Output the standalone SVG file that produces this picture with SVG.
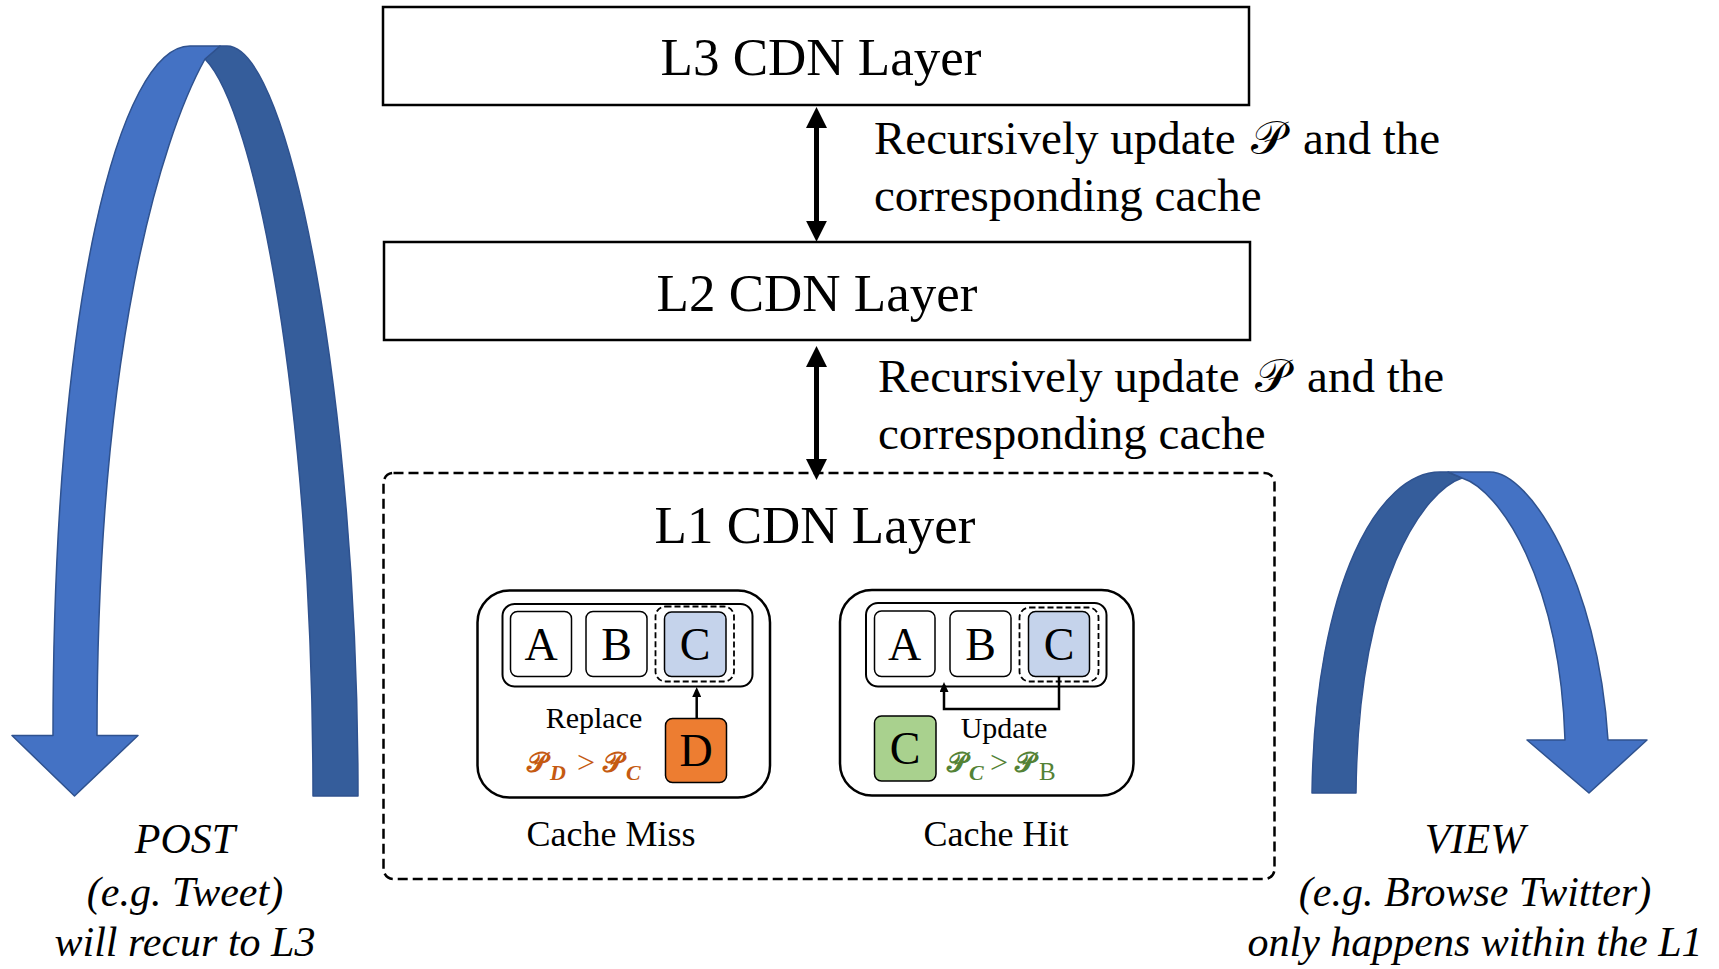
<svg xmlns="http://www.w3.org/2000/svg" width="1719" height="969" viewBox="0 0 1719 969">
<style>
.t{font-family:"Liberation Serif","Times New Roman",serif;fill:#000}
.it{font-family:"Liberation Serif","Times New Roman",serif;font-style:italic;fill:#000}
.m{font-family:"DejaVu Serif","DejaVu Sans",serif}
.layer{fill:#fff;stroke:#000;stroke-width:2.5}
.panel{fill:#fff;stroke:#000;stroke-width:2.5}
.strip{fill:#fff;stroke:#000;stroke-width:2}
.cell{stroke:#000;stroke-width:1.5}
.dash{fill:none;stroke:#000;stroke-width:1.8;stroke-dasharray:6 3}
.light{fill:#4472C4;stroke:#2F528F;stroke-width:1.5;stroke-linejoin:round}
.dark{fill:#355D9B;stroke:#2F528F;stroke-width:1.5;stroke-linejoin:round}
.big{stroke:#000;stroke-width:5;fill:none}
.small{stroke:#000;stroke-width:2.5;fill:none}
</style>
<defs>
<marker id="ah" viewBox="0 0 21 21" refX="11" refY="10.5" markerWidth="21" markerHeight="21" markerUnits="userSpaceOnUse" orient="auto-start-reverse">
<path d="M0,0 L21,10.5 L0,21 z" fill="#000"/>
</marker>
<marker id="as" viewBox="0 0 10 9" refX="7" refY="4.5" markerWidth="10" markerHeight="9" markerUnits="userSpaceOnUse" orient="auto">
<path d="M0,0 L10,4.5 L0,9 z" fill="#000"/>
</marker>
</defs>
<rect width="1719" height="969" fill="#fff"/>

<g id="post-arrow">
<path class="dark" d="M205,59 L220,46 L227,46 C290,46 358,400 358,796 L313,796 C313,400 255,110 205,59 Z"/>
<path class="light" d="M53,735.5 C53,300 120,46 190,46 L220,46 L205,59 C160,140 97,350 97,735.5 L138,735.5 L74.5,796 L12,735.5 Z"/>
</g>
<g id="view-arrow">
<path class="dark" d="M1312,793 C1315,580 1380,472 1440,472 L1448,472 L1462,478 C1425,490 1358,580 1356,793 Z"/>
<path class="light" d="M1448,472 L1490,472 C1530,472 1598,580 1608,740 L1647,740 L1589,793 L1527,740 L1565,740 C1560,580 1500,490 1462,478 Z"/>
</g>

<g id="L3">
<rect class="layer" x="383" y="7" width="866" height="98"/>
<text class="t" x="821" y="75" font-size="53" text-anchor="middle">L3 CDN Layer</text>
</g>
<g id="L2">
<rect class="layer" x="384" y="242" width="866" height="98"/>
<text class="t" x="817" y="311" font-size="53" text-anchor="middle">L2 CDN Layer</text>
</g>

<g id="label-update-1">
<text class="t" x="874" y="154" font-size="47">Recursively update <tspan class="m" dx="4">𝒫</tspan><tspan dx="6"> and the</tspan></text>
<text class="t" x="874" y="211" font-size="47">corresponding cache</text>
</g>
<g id="label-update-2">
<text class="t" x="878" y="392" font-size="47">Recursively update <tspan class="m" dx="4">𝒫</tspan><tspan dx="6"> and the</tspan></text>
<text class="t" x="878" y="449" font-size="47">corresponding cache</text>
</g>

<g id="L1">
<rect x="383.5" y="473" width="891" height="406" rx="10" fill="none" stroke="#000" stroke-width="2.5" stroke-dasharray="10 5"/>
<text class="t" x="815" y="543" font-size="53" text-anchor="middle">L1 CDN Layer</text>
</g>

<g id="cache-miss">
<rect class="panel" x="477.5" y="590.5" width="292.5" height="207" rx="32"/>
<rect class="strip" x="502.5" y="604" width="250" height="82.5" rx="12"/>
<rect class="cell" fill="#fff" x="510.5" y="611.5" width="61" height="65" rx="7"/>
<rect class="cell" fill="#fff" x="586" y="611.5" width="61" height="65" rx="7"/>
<rect class="dash" x="655.5" y="606.5" width="78.5" height="75" rx="10"/>
<rect class="cell" fill="#C5D3EB" x="664.5" y="612" width="61.5" height="64.5" rx="7"/>
<text class="t" x="541" y="660" font-size="46" text-anchor="middle">A</text>
<text class="t" x="616.5" y="660" font-size="46" text-anchor="middle">B</text>
<text class="t" x="695" y="660" font-size="46" text-anchor="middle">C</text>
<rect class="cell" fill="#ED7D31" x="665.5" y="718.5" width="61" height="64" rx="7"/>
<text class="t" x="696" y="766" font-size="46" text-anchor="middle">D</text>
<text class="t" x="594" y="728" font-size="30" text-anchor="middle">Replace</text>
<text class="t" font-size="28" style="fill:#C55A11"><tspan class="m" x="527" y="772" font-weight="bold">𝒫</tspan><tspan x="550" y="780" font-size="22" font-style="italic" font-weight="bold">D</tspan><tspan x="577" y="773" font-size="32">&gt;</tspan><tspan class="m" x="603" y="772" font-weight="bold">𝒫</tspan><tspan x="626" y="780" font-size="22" font-style="italic" font-weight="bold">C</tspan></text>
<text class="t" x="611" y="846" font-size="36" text-anchor="middle">Cache Miss</text>
</g>

<g id="cache-hit">
<rect class="panel" x="840" y="590" width="293.5" height="205.5" rx="32"/>
<rect class="strip" x="866" y="603" width="240.5" height="83.5" rx="12"/>
<rect class="cell" fill="#fff" x="874.5" y="611" width="60.5" height="65.5" rx="7"/>
<rect class="cell" fill="#fff" x="950" y="611" width="61" height="65.5" rx="7"/>
<rect class="dash" x="1019.5" y="607.5" width="79" height="74" rx="10"/>
<rect class="cell" fill="#C5D3EB" x="1028.5" y="611.5" width="61" height="65" rx="7"/>
<text class="t" x="904.5" y="660" font-size="46" text-anchor="middle">A</text>
<text class="t" x="980.5" y="660" font-size="46" text-anchor="middle">B</text>
<text class="t" x="1059" y="660" font-size="46" text-anchor="middle">C</text>
<rect class="cell" fill="#A9D18E" x="874.5" y="716" width="61.5" height="65" rx="7"/>
<text class="t" x="905" y="764" font-size="46" text-anchor="middle">C</text>
<text class="t" x="1004" y="738" font-size="30" text-anchor="middle">Update</text>
<text class="t" font-size="28" style="fill:#548235"><tspan class="m" x="947" y="772" font-weight="bold">𝒫</tspan><tspan x="969" y="780" font-size="22" font-style="italic" font-weight="bold">C</tspan><tspan x="990" y="773" font-size="32">&gt;</tspan><tspan class="m" x="1015" y="772" font-weight="bold">𝒫</tspan><tspan x="1039" y="780" font-size="25">B</tspan></text>
<text class="t" x="996" y="846" font-size="36" text-anchor="middle">Cache Hit</text>
</g>

<g id="connectors">
<line class="big" x1="816.5" y1="117" x2="816.5" y2="231.7" marker-start="url(#ah)" marker-end="url(#ah)"/>
<line class="big" x1="816.5" y1="356" x2="816.5" y2="470" marker-start="url(#ah)" marker-end="url(#ah)"/>
<line class="small" x1="696.7" y1="718" x2="696.7" y2="690" marker-end="url(#as)"/>
<path class="small" d="M1059,676.5 V709 H944 V685" marker-end="url(#as)"/>
</g>

<g id="post-label">
<text class="it" x="185" y="853" font-size="42" text-anchor="middle">POST</text>
<text class="it" x="185" y="906" font-size="42" text-anchor="middle">(e.g. Tweet)</text>
<text class="it" x="185" y="956" font-size="42" text-anchor="middle">will recur to L3</text>
</g>
<g id="view-label">
<text class="it" x="1475" y="853" font-size="42" text-anchor="middle">VIEW</text>
<text class="it" x="1475" y="906" font-size="42" text-anchor="middle">(e.g. Browse Twitter)</text>
<text class="it" x="1475" y="956" font-size="42" text-anchor="middle">only happens within the L1</text>
</g>
</svg>
